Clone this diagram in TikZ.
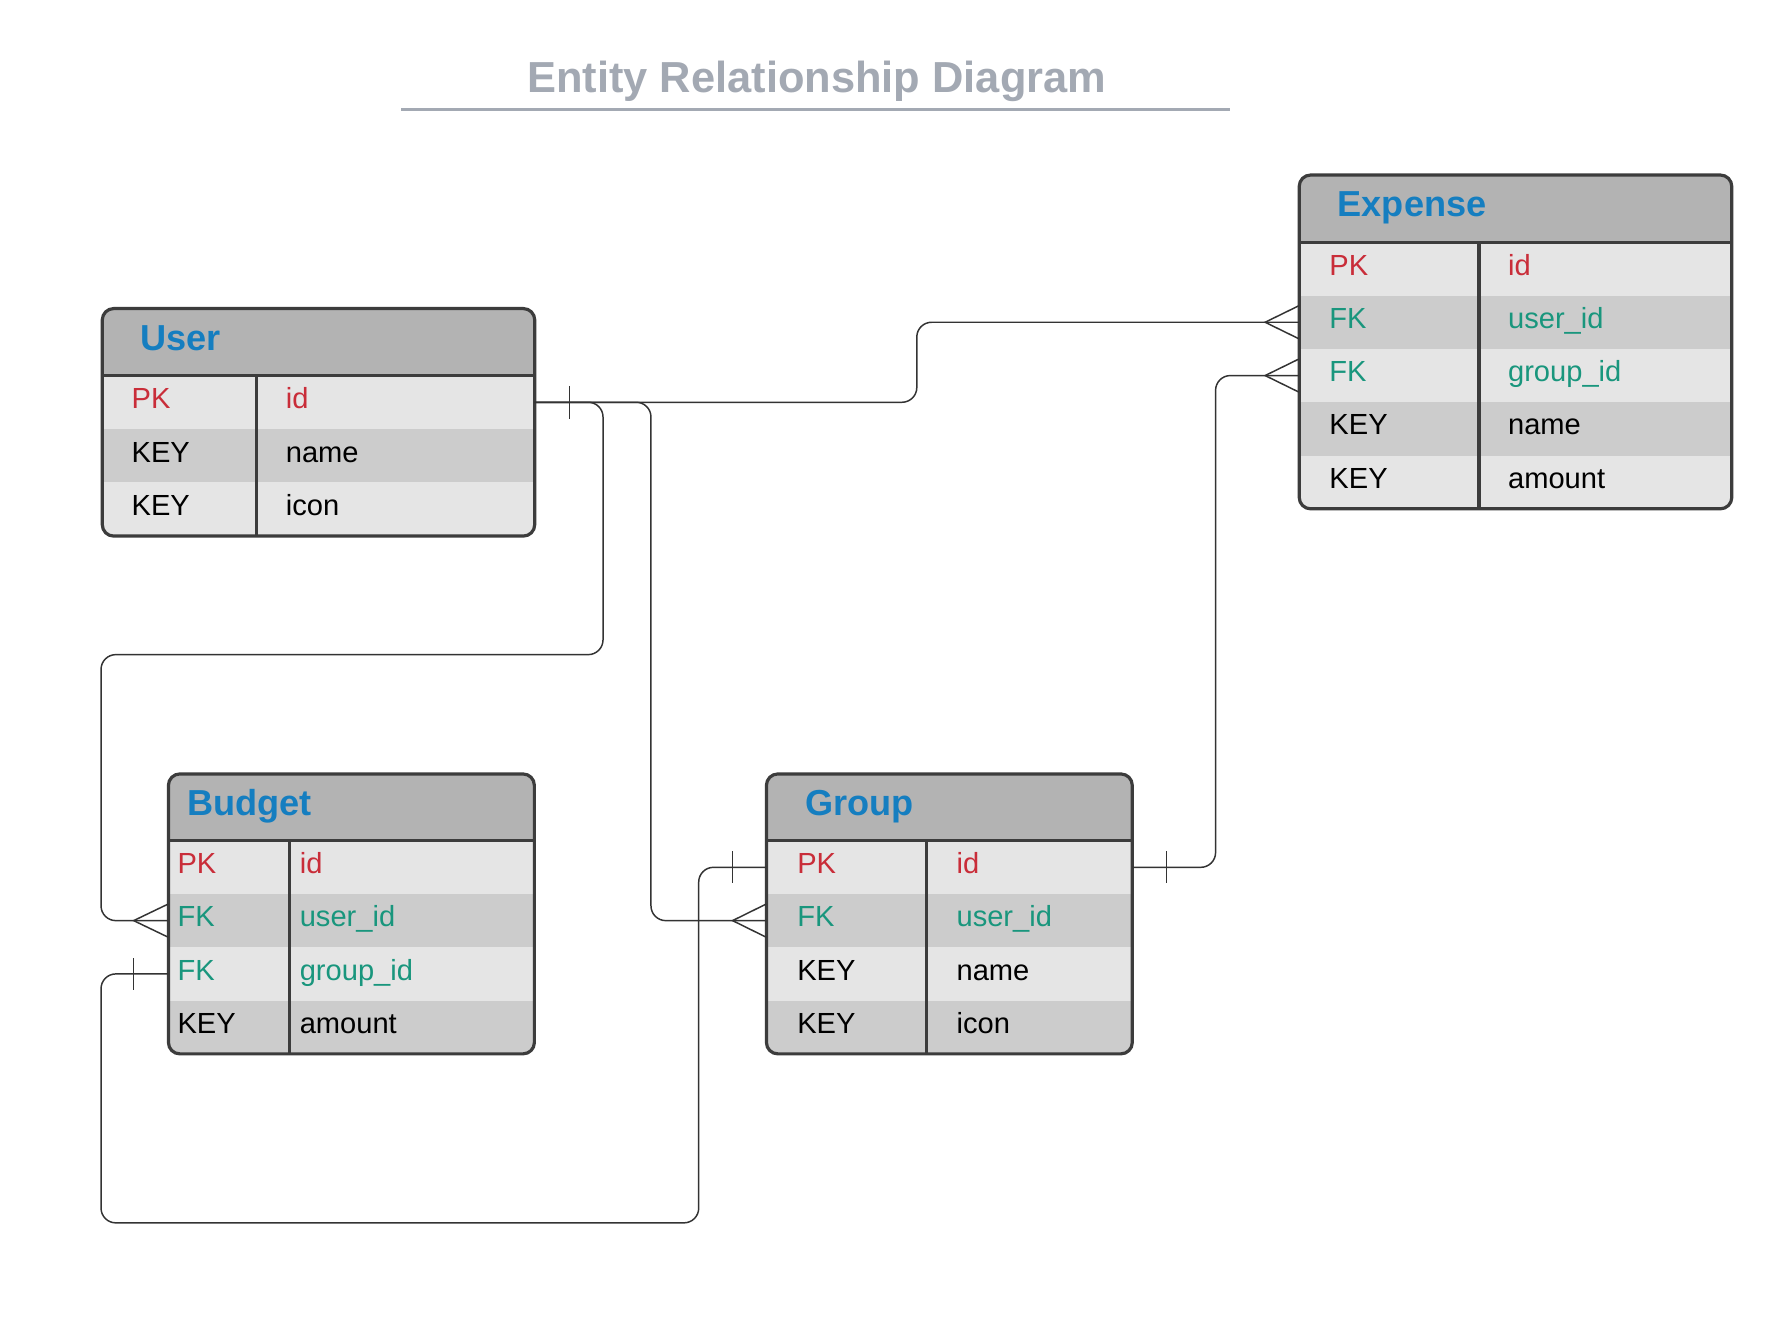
\documentclass[tikz,border=0pt]{standalone}
\usepackage{fontspec}
\setmainfont{Liberation Sans}
\usetikzlibrary{positioning}

\definecolor{hdrgray}{HTML}{B3B3B3}
\definecolor{rowlight}{HTML}{E5E5E5}
\definecolor{rowdark}{HTML}{CCCCCC}
\definecolor{framegray}{HTML}{3C3C3C}
\definecolor{titleblue}{HTML}{157EC0}
\definecolor{pkred}{HTML}{C92D39}
\definecolor{fkgreen}{HTML}{19967D}
\definecolor{capgray}{HTML}{A3A9B3}
\definecolor{linegray}{HTML}{333333}

\begin{document}
\begin{tikzpicture}[x=1pt,y=-1pt,
    rowbox/.style={minimum height=46.9pt, inner sep=0pt, outer sep=0pt},
    lt/.style={rowbox, fill=rowlight},
    dk/.style={rowbox, fill=rowdark},
    headbox/.style={minimum height=59pt, inner sep=0pt, outer sep=0pt, fill=hdrgray, anchor=north west},
    frame/.style={draw=framegray, line width=2.8pt, rounded corners=10pt},
    sep/.style={draw=framegray, line width=2.8pt},
    ename/.style={font=\bfseries\fontsize{31.8}{36}\selectfont, text=titleblue, anchor=base west, inner sep=0pt},
    field/.style={font=\fontsize{25.6}{30}\selectfont, anchor=base west, inner sep=0pt},
    pk/.style={field, text=pkred},
    fk/.style={field, text=fkgreen},
    rel/.style={draw=linegray, line width=1.3pt, rounded corners=13pt},
    bar/.style={draw=linegray, line width=1.3pt},
  ]
  \useasboundingbox[fill=white] (0,0) rectangle (1568,1165);

  % title
  \node[font=\bfseries\fontsize{38.2}{44}\selectfont, text=capgray, anchor=base, inner sep=0pt] (caption) at (718.7,81.5) {Entity Relationship Diagram};
  \draw[capgray, line width=2.4pt] (353,96.2) -- (1082,96.2);

  % User
  \begin{scope}
    \clip[rounded corners=10pt] (90,271.5) rectangle (470.5,471.7);
    \node[headbox, minimum width=380.5pt] (user) at (90,271.5) {};
    \node[lt, minimum width=380.5pt, below=0pt of user] (user-id) {};
    \node[dk, minimum width=380.5pt, below=0pt of user-id] (user-name) {};
    \node[lt, minimum width=380.5pt, below=0pt of user-name] (user-icon) {};
  \end{scope}
  \draw[frame] (90,271.5) rectangle (470.5,471.7);
  \draw[sep] (user.south west) -- (user.south east);
  \draw[sep] (226,331) -- (226,471.7);
  \node[ename] (user-t) at (123.3,308) {User};
  \node[pk] (user-k1) at (115.6,359.8) {PK};
  \node[pk] (user-v1) at (251.3,359.8) {id};
  \node[field] (user-k2) at (115.6,406.7) {KEY};
  \node[field] (user-v2) at (251.3,406.7) {name};
  \node[field] (user-k3) at (115.6,453.6) {KEY};
  \node[field] (user-v3) at (251.3,453.6) {icon};

  % Expense
  \begin{scope}
    \clip[rounded corners=10pt] (1143.2,154) rectangle (1523.8,447.7);
    \node[headbox, minimum width=380.6pt, minimum height=59.2pt] (exp) at (1143.2,154) {};
    \node[lt, minimum width=380.6pt, below=0pt of exp] (exp-id) {};
    \node[dk, minimum width=380.6pt, below=0pt of exp-id] (exp-uid) {};
    \node[lt, minimum width=380.6pt, below=0pt of exp-uid] (exp-gid) {};
    \node[dk, minimum width=380.6pt, below=0pt of exp-gid] (exp-name) {};
    \node[lt, minimum width=380.6pt, below=0pt of exp-name] (exp-amt) {};
  \end{scope}
  \draw[frame] (1143.2,154) rectangle (1523.8,447.7);
  \draw[sep] (exp.south west) -- (exp.south east);
  \draw[sep] (1301.4,213.2) -- (1301.4,447.7);
  \node[ename] (exp-t) at (1176.9,190.6) {Expense};
  \node[pk] (exp-k1) at (1169.6,242) {PK};
  \node[pk] (exp-v1) at (1326.8,242) {id};
  \node[fk] (exp-k2) at (1169.6,288.9) {FK};
  \node[fk] (exp-v2) at (1326.8,288.9) {user\_id};
  \node[fk] (exp-k3) at (1169.6,335.8) {FK};
  \node[fk] (exp-v3) at (1326.8,335.8) {group\_id};
  \node[field] (exp-k4) at (1169.6,382.7) {KEY};
  \node[field] (exp-v4) at (1326.8,382.7) {name};
  \node[field] (exp-k5) at (1169.6,429.6) {KEY};
  \node[field] (exp-v5) at (1326.8,429.6) {amount};

  % Budget
  \begin{scope}
    \clip[rounded corners=10pt] (148.2,681) rectangle (470.2,927.3);
    \node[headbox, minimum width=322pt, minimum height=58.7pt] (bud) at (148.2,681) {};
    \node[lt, minimum width=322pt, below=0pt of bud] (bud-id) {};
    \node[dk, minimum width=322pt, below=0pt of bud-id] (bud-uid) {};
    \node[lt, minimum width=322pt, below=0pt of bud-uid] (bud-gid) {};
    \node[dk, minimum width=322pt, below=0pt of bud-gid] (bud-amt) {};
  \end{scope}
  \draw[frame] (148.2,681) rectangle (470.2,927.3);
  \draw[sep] (bud.south west) -- (bud.south east);
  \draw[sep] (255,739.7) -- (255,927.3);
  \node[ename] (bud-t) at (164.6,717.6) {Budget};
  \node[pk] (bud-k1) at (156,768.5) {PK};
  \node[pk] (bud-v1) at (263.6,768.5) {id};
  \node[fk] (bud-k2) at (156,815.4) {FK};
  \node[fk] (bud-v2) at (263.6,815.4) {user\_id};
  \node[fk] (bud-k3) at (156,862.3) {FK};
  \node[fk] (bud-v3) at (263.6,862.3) {group\_id};
  \node[field] (bud-k4) at (156,909.2) {KEY};
  \node[field] (bud-v4) at (263.6,909.2) {amount};

  % Group
  \begin{scope}
    \clip[rounded corners=10pt] (674.4,681) rectangle (996.3,927.3);
    \node[headbox, minimum width=321.9pt, minimum height=58.7pt] (grp) at (674.4,681) {};
    \node[lt, minimum width=321.9pt, below=0pt of grp] (grp-id) {};
    \node[dk, minimum width=321.9pt, below=0pt of grp-id] (grp-uid) {};
    \node[lt, minimum width=321.9pt, below=0pt of grp-uid] (grp-name) {};
    \node[dk, minimum width=321.9pt, below=0pt of grp-name] (grp-icon) {};
  \end{scope}
  \draw[frame] (674.4,681) rectangle (996.3,927.3);
  \draw[sep] (grp.south west) -- (grp.south east);
  \draw[sep] (815.4,739.7) -- (815.4,927.3);
  \node[ename] (grp-t) at (708.6,717.6) {Group};
  \node[pk] (grp-k1) at (701.3,768.5) {PK};
  \node[pk] (grp-v1) at (841.5,768.5) {id};
  \node[fk] (grp-k2) at (701.3,815.4) {FK};
  \node[fk] (grp-v2) at (841.5,815.4) {user\_id};
  \node[field] (grp-k3) at (701.3,862.3) {KEY};
  \node[field] (grp-v3) at (841.5,862.3) {name};
  \node[field] (grp-k4) at (701.3,909.2) {KEY};
  \node[field] (grp-v4) at (841.5,909.2) {icon};

  % relations
  \coordinate (c1) at (806.7,0);
  \coordinate (c2) at (530.6,576);
  \coordinate (c3) at (88.9,576);
  \coordinate (c4) at (572.8,0);
  \coordinate (c5) at (614.8,1076);
  \coordinate (c6) at (88.9,1076);
  \coordinate (c7) at (1069.6,0);
  \draw[rel] (user-id.east) -| (c1 |- exp-uid.west) -- (exp-uid.west);
  \draw[rel] (user-id.east) -| (c2) -- (c3) |- (bud-uid.west);
  \draw[rel] (user-id.east) -| (c4 |- grp-uid.west) -- (grp-uid.west);
  \draw[rel] (grp-id.west) -| (c5) -- (c6) |- (bud-gid.west);
  \draw[rel] (grp-id.east) -| (c7 |- exp-gid.west) -- (exp-gid.west);

  % one / many ends
  \draw[bar] ([xshift=30.6pt,yshift=14.4pt]user-id.east) -- ([xshift=30.6pt,yshift=-14.4pt]user-id.east);
  \draw[bar] ([xshift=-30pt,yshift=14pt]grp-id.west) -- ([xshift=-30pt,yshift=-14pt]grp-id.west);
  \draw[bar] ([xshift=30.3pt,yshift=14pt]grp-id.east) -- ([xshift=30.3pt,yshift=-14pt]grp-id.east);
  \draw[bar] ([xshift=-30.6pt,yshift=14pt]bud-gid.west) -- ([xshift=-30.6pt,yshift=-14pt]bud-gid.west);
  \draw[bar] ([yshift=14.7pt]exp-uid.west) -- ([xshift=-30pt]exp-uid.west) -- ([yshift=-14.7pt]exp-uid.west);
  \draw[bar] ([yshift=14.7pt]exp-gid.west) -- ([xshift=-30pt]exp-gid.west) -- ([yshift=-14.7pt]exp-gid.west);
  \draw[bar] ([yshift=14.7pt]bud-uid.west) -- ([xshift=-30.6pt]bud-uid.west) -- ([yshift=-14.7pt]bud-uid.west);
  \draw[bar] ([yshift=14.7pt]grp-uid.west) -- ([xshift=-29.8pt]grp-uid.west) -- ([yshift=-14.7pt]grp-uid.west);
\end{tikzpicture}
\end{document}
